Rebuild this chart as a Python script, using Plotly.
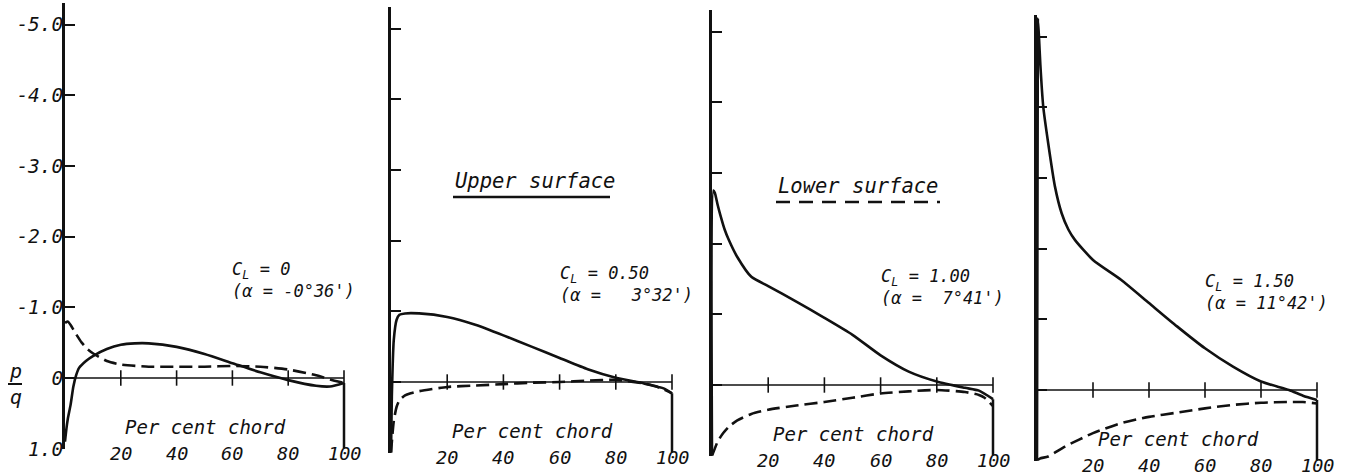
import plotly.graph_objects as go

W, H = 1345, 476

# ------------------------- data -------------------------
# Panel 1: C_L = 0
p1_upper_x = [0, 0.5, 1, 2, 3, 4, 5, 7.5, 10, 15, 20, 25, 30, 40, 50, 60, 70, 80, 90, 95, 100]
p1_upper_y = [0.9, 0.72, 0.58, 0.38, 0.12, -0.04, -0.14, -0.24, -0.31, -0.41, -0.47, -0.49, -0.49,
              -0.44, -0.34, -0.21, -0.08, 0.03, 0.11, 0.12, 0.07]
p1_lower_x = [0, 1, 2, 4, 6, 8, 10, 15, 20, 30, 40, 50, 60, 70, 80, 90, 95, 100]
p1_lower_y = [-0.78, -0.8, -0.75, -0.62, -0.5, -0.41, -0.35, -0.24, -0.19, -0.16, -0.16, -0.16,
              -0.17, -0.16, -0.12, -0.04, 0.02, 0.07]

# Panel 2: C_L = 0.50
p2_upper_x = [0, 0.3, 1, 2, 3, 5, 10, 20, 30, 40, 50, 60, 70, 80, 90, 95, 97, 100]
p2_upper_y = [1.0, 0.2, -0.6, -0.88, -0.95, -0.97, -0.97, -0.92, -0.81, -0.66, -0.5, -0.34,
              -0.18, -0.06, 0.02, 0.07, 0.09, 0.16]
p2_lower_x = [0, 0.5, 1, 2, 3, 5, 7, 10, 20, 30, 40, 50, 60, 70, 80, 90, 95, 100]
p2_lower_y = [1.0, 0.75, 0.55, 0.35, 0.26, 0.19, 0.16, 0.13, 0.07, 0.05, 0.03, 0.01, 0.0,
              -0.02, -0.03, 0.02, 0.07, 0.16]

# Panel 3: C_L = 1.00
p3_upper_x = [0, 0.5, 1, 2, 3, 4.5, 6, 9, 14, 20, 30, 40, 50, 60, 70, 80, 90, 95, 100]
p3_upper_y = [1.0, -2.75, -2.72, -2.55, -2.4, -2.2, -2.05, -1.81, -1.53, -1.4, -1.18, -0.95,
              -0.71, -0.42, -0.19, -0.05, 0.04, 0.08, 0.2]
p3_lower_x = [0, 1, 2, 4, 6, 9, 14, 20, 30, 40, 50, 60, 70, 80, 90, 95, 97, 100]
p3_lower_y = [1.0, 0.9, 0.8, 0.68, 0.59, 0.5, 0.41, 0.35, 0.29, 0.24, 0.18, 0.12, 0.09, 0.07,
              0.1, 0.14, 0.18, 0.3]

# Panel 4: C_L = 1.50
p4_upper_x = [0, 0.3, 0.7, 1.2, 2.25, 4.0, 6.4, 8.8, 11.2, 13.6, 20, 30, 40, 50, 60, 70, 80, 90, 95, 100]
p4_upper_y = [1.0, -5.25, -5.0, -4.6, -4.0, -3.49, -2.88, -2.5, -2.27, -2.12, -1.84, -1.56,
              -1.23, -0.9, -0.59, -0.33, -0.12, 0.0, 0.08, 0.14]
p4_lower_x = [0, 1, 4, 10, 20, 30, 40, 50, 60, 70, 80, 90, 95, 100]
p4_lower_y = [1.0, 0.97, 0.94, 0.8, 0.61, 0.47, 0.38, 0.32, 0.26, 0.21, 0.18, 0.17, 0.17, 0.19]

upper_x = [p1_upper_x, p2_upper_x, p3_upper_x, p4_upper_x]
upper_y = [p1_upper_y, p2_upper_y, p3_upper_y, p4_upper_y]
lower_x = [p1_lower_x, p2_lower_x, p3_lower_x, p4_lower_x]
lower_y = [p1_lower_y, p2_lower_y, p3_lower_y, p4_lower_y]

cl_labels = ["C<sub>L</sub> = 0", "C<sub>L</sub> = 0.50", "C<sub>L</sub> = 1.00", "C<sub>L</sub> = 1.50"]
alpha_labels = ["(\u03b1 = -0\u00b036')", "(\u03b1 =\u00a0\u00a0 3\u00b032')",
                "(\u03b1 =\u00a0 7\u00b041')", "(\u03b1 = 11\u00b042')"]

x_tick_vals = [20, 40, 60, 80, 100]
x_tick_text = ["20", "40", "60", "80", "100"]
y_tick_vals = [-5, -4, -3, -2, -1, 0, 1]
y_tick_text = ["-5.0", "-4.0", "-3.0", "-2.0", "-1.0", "0", "1.0"]

x_title = "Per cent chord"
y_title = "p<br>q"
legend_upper = "Upper surface"
legend_lower = "Lower surface"

# ------------------------- layout geometry (pixels) -------------------------
panel_x0 = [65, 391, 712, 1037]
panel_x_unit = [2.79, 2.81, 2.81, 2.80]
panel_y0 = [378, 382, 385, 390]
y_unit = 70.7
Y_RANGE = [1.0, -5.3]
X_RANGE = [0, 101]

FONT = "DejaVu Sans Mono"
INK = "#111111"


def px_x(i, v):
    return (panel_x0[i] + v * panel_x_unit[i]) / W


def px_y(i, v):
    return 1 - (panel_y0[i] + v * y_unit) / H


fig = go.Figure()
layout = dict(
    width=W, height=H, autosize=False,
    margin=dict(l=0, r=0, t=0, b=0, pad=0, autoexpand=False),
    paper_bgcolor="white", plot_bgcolor="white",
    showlegend=False,
)
shapes = []
annotations = []

for i in range(4):
    n = "" if i == 0 else str(i + 1)
    xa, ya = "x" + n, "y" + n
    layout["xaxis" + n] = dict(
        domain=[px_x(i, X_RANGE[0]), px_x(i, X_RANGE[1])], range=X_RANGE, anchor=ya,
        showline=False, showgrid=False, zeroline=False,
        showticklabels=False, ticks="", automargin=False,
    )
    layout["yaxis" + n] = dict(
        domain=[px_y(i, Y_RANGE[0]), px_y(i, Y_RANGE[1])], range=Y_RANGE, anchor=xa,
        showline=True, linecolor=INK, linewidth=2.5,
        showgrid=False, zeroline=False, automargin=False,
        ticks="inside", ticklen=10, tickwidth=2, tickcolor=INK,
        tickvals=y_tick_vals, ticktext=y_tick_text,
        showticklabels=(i == 0), ticklabelstandoff=-5,
        tickfont=dict(family=FONT, size=19.5, color=INK, style="italic"),
    )

    # curves
    fig.add_trace(go.Scatter(x=upper_x[i], y=upper_y[i], xaxis=xa, yaxis=ya, mode="lines",
                             line=dict(color=INK, width=2.6, shape="spline", smoothing=0.6),
                             hoverinfo="skip"))
    fig.add_trace(go.Scatter(x=lower_x[i], y=lower_y[i], xaxis=xa, yaxis=ya, mode="lines",
                             line=dict(color=INK, width=2.6, dash="13px,6px", shape="spline", smoothing=0.6),
                             hoverinfo="skip"))
    # chord-axis tick marks
    fig.add_trace(go.Scatter(x=x_tick_vals, y=[0] * len(x_tick_vals), xaxis=xa, yaxis=ya,
                             mode="markers", cliponaxis=False,
                             marker=dict(symbol="line-ns", size=11, line=dict(color=INK, width=1.6)),
                             hoverinfo="skip"))

    # chord axis line and trailing-edge line
    shapes.append(dict(type="line", xref=xa, yref=ya, x0=0, x1=100, y0=0, y1=0,
                       line=dict(color=INK, width=1.6)))
    shapes.append(dict(type="line", xref=xa, yref=ya, x0=100, x1=100,
                       y0=upper_y[i][-1], y1=Y_RANGE[0], line=dict(color=INK, width=2.5)))

    # x tick labels (placed level with the bottom of the p/q axis)
    for v, t in zip(x_tick_vals, x_tick_text):
        annotations.append(dict(text=t, x=px_x(i, v), y=px_y(i, 1.07), xref="paper", yref="paper",
                                showarrow=False, xanchor="center", yanchor="middle",
                                font=dict(family=FONT, size=18.5, color=INK, style="italic")))
    # x title
    annotations.append(dict(text=x_title, x=50.5, y=0.70, xref=xa, yref=ya, showarrow=False,
                            xanchor="center", yanchor="middle",
                            font=dict(family=FONT, size=19, color=INK, style="italic")))
    # C_L / alpha label
    annotations.append(dict(text=cl_labels[i] + "<br>" + alpha_labels[i], x=59.3, y=-1.39,
                            xref=xa, yref=ya, showarrow=False, xanchor="left", yanchor="middle",
                            align="left",
                            font=dict(family=FONT, size=17, color=INK, style="italic")))

# p/q label
annotations.append(dict(text=y_title, x=15 / W, y=1 - 384 / H, xref="paper", yref="paper",
                        showarrow=False, xanchor="center", yanchor="middle",
                        font=dict(family=FONT, size=20, color=INK, style="italic")))
shapes.append(dict(type="line", xref="paper", yref="paper", x0=8 / W, x1=22 / W,
                   y0=1 - 384 / H, y1=1 - 384 / H, line=dict(color=INK, width=2)))

# legend
annotations.append(dict(text=legend_upper, x=453 / W, y=1 - 181 / H, xref="paper", yref="paper",
                        showarrow=False, xanchor="left", yanchor="middle",
                        font=dict(family=FONT, size=20.5, color=INK, style="italic")))
shapes.append(dict(type="line", xref="paper", yref="paper", x0=453 / W, x1=610 / W,
                   y0=1 - 197 / H, y1=1 - 197 / H, line=dict(color=INK, width=2.5)))
annotations.append(dict(text=legend_lower, x=776 / W, y=1 - 186 / H, xref="paper", yref="paper",
                        showarrow=False, xanchor="left", yanchor="middle",
                        font=dict(family=FONT, size=20.5, color=INK, style="italic")))
shapes.append(dict(type="line", xref="paper", yref="paper", x0=776 / W, x1=940 / W,
                   y0=1 - 202 / H, y1=1 - 202 / H, line=dict(color=INK, width=2.5, dash="14px,9px")))

layout["shapes"] = shapes
layout["annotations"] = annotations
fig.update_layout(**layout)
fig.write_html("out.html")
